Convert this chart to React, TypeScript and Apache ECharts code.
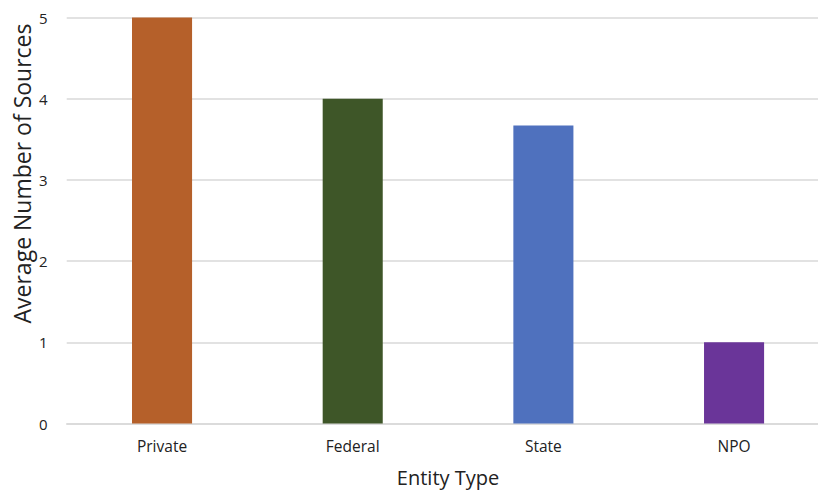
import React, { useEffect, useRef } from "react";
import * as echarts from "echarts";

const categories = ["Private", "Federal", "State", "NPO"];
const values = [5, 4, 3.67, 1];
const barColors = ["#B5602A", "#3E5628", "#4F71BE", "#6A3599"];
const yTicks = [0, 1, 2, 3, 4, 5];

export default function App() {
  const ref = useRef<HTMLDivElement>(null);
  useEffect(() => {
    if (!ref.current) return;
    const chart = echarts.init(ref.current, null, { renderer: "svg" });
    const font = "'Open Sans', 'Liberation Sans', sans-serif";
    chart.setOption({
      animation: false,
      grid: {
        left: 66.7,
        top: 17.5,
        right: -11.4,
        bottom: 491 - 423.5,
        containLabel: false,
        outerBoundsMode: "none",
      },
      xAxis: {
        type: "category",
        data: categories,
        name: "Entity Type",
        nameLocation: "middle",
        nameGap: 43,
        nameTextStyle: { fontFamily: font, fontSize: 20, color: "#222", lineHeight: 22 },
        axisLine: { show: true, lineStyle: { color: "#d9d9d9", width: 1.5 } },
        axisTick: { show: false },
        axisLabel: { fontFamily: font, fontSize: 15.5, color: "#222", margin: 14 },
      },
      yAxis: {
        type: "value",
        min: yTicks[0],
        max: yTicks[yTicks.length - 1],
        interval: 1,
        name: "Average Number of Sources",
        nameLocation: "middle",
        nameGap: 32,
        nameMoveOverlap: false,
        nameTextStyle: {
          fontFamily: font,
          fontSize: 23,
          color: "#222",
          lineHeight: 26,
          padding: [0, 0, 0, 94],
        },
        axisLine: { show: false },
        axisTick: { show: false },
        axisLabel: { fontFamily: font, fontSize: 15, color: "#222", margin: 19 },
        splitLine: { lineStyle: { color: "#d9d9d9", width: 1.5 } },
      },
      series: [
        {
          type: "bar",
          barWidth: "31.5%",
          data: values.map((v, i) => ({ value: v, itemStyle: { color: barColors[i] } })),
        },
      ],
    });
    return () => chart.dispose();
  }, []);
  return <div ref={ref} style={{ width: 818, height: 491, position: "absolute", left: 0, top: 0 }} />;
}
